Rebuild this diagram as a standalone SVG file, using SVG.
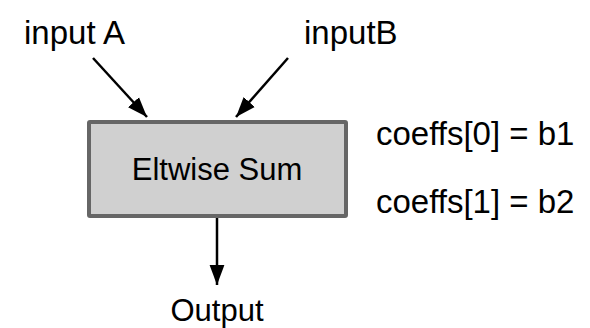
<svg xmlns="http://www.w3.org/2000/svg" width="590" height="328" viewBox="0 0 590 328">
<style>
text{font-family:"Liberation Sans",Arial,Helvetica,sans-serif;font-size:33px;fill:#000}
.c{stroke:#000;stroke-width:2.5;fill:none}
</style>
<defs>
<marker id="ah2" viewBox="0 0 10 10" refX="10" refY="5" markerWidth="20" markerHeight="20" markerUnits="userSpaceOnUse" orient="auto">
<path d="M0,1.3 L10,5 L0,8.7 z" fill="#000"/>
</marker>
</defs>
<rect width="590" height="328" fill="#fff"/>
<g id="inputA"><text x="24" y="44">input A</text></g>
<g id="inputB"><text x="304" y="44">inputB</text></g>
<g id="sum">
<rect x="89" y="122" width="257" height="94" fill="#d0d0d0" stroke="#666" stroke-width="4" rx="1"/>
<text x="217" y="180" text-anchor="middle" style="font-size:31px">Eltwise Sum</text>
</g>
<g id="output"><text x="217" y="321" text-anchor="middle" style="font-size:31px">Output</text></g>
<g id="coeffs">
<text x="376" y="145">coeffs[0] = b1</text>
<text x="376" y="213">coeffs[1] = b2</text>
</g>
<g id="connectors">
<line class="c" x1="93" y1="58" x2="147" y2="117" marker-end="url(#ah2)"/>
<line class="c" x1="288" y1="58" x2="236" y2="117" marker-end="url(#ah2)"/>
<line class="c" x1="217" y1="218" x2="217" y2="285" marker-end="url(#ah2)"/>
</g>
</svg>
